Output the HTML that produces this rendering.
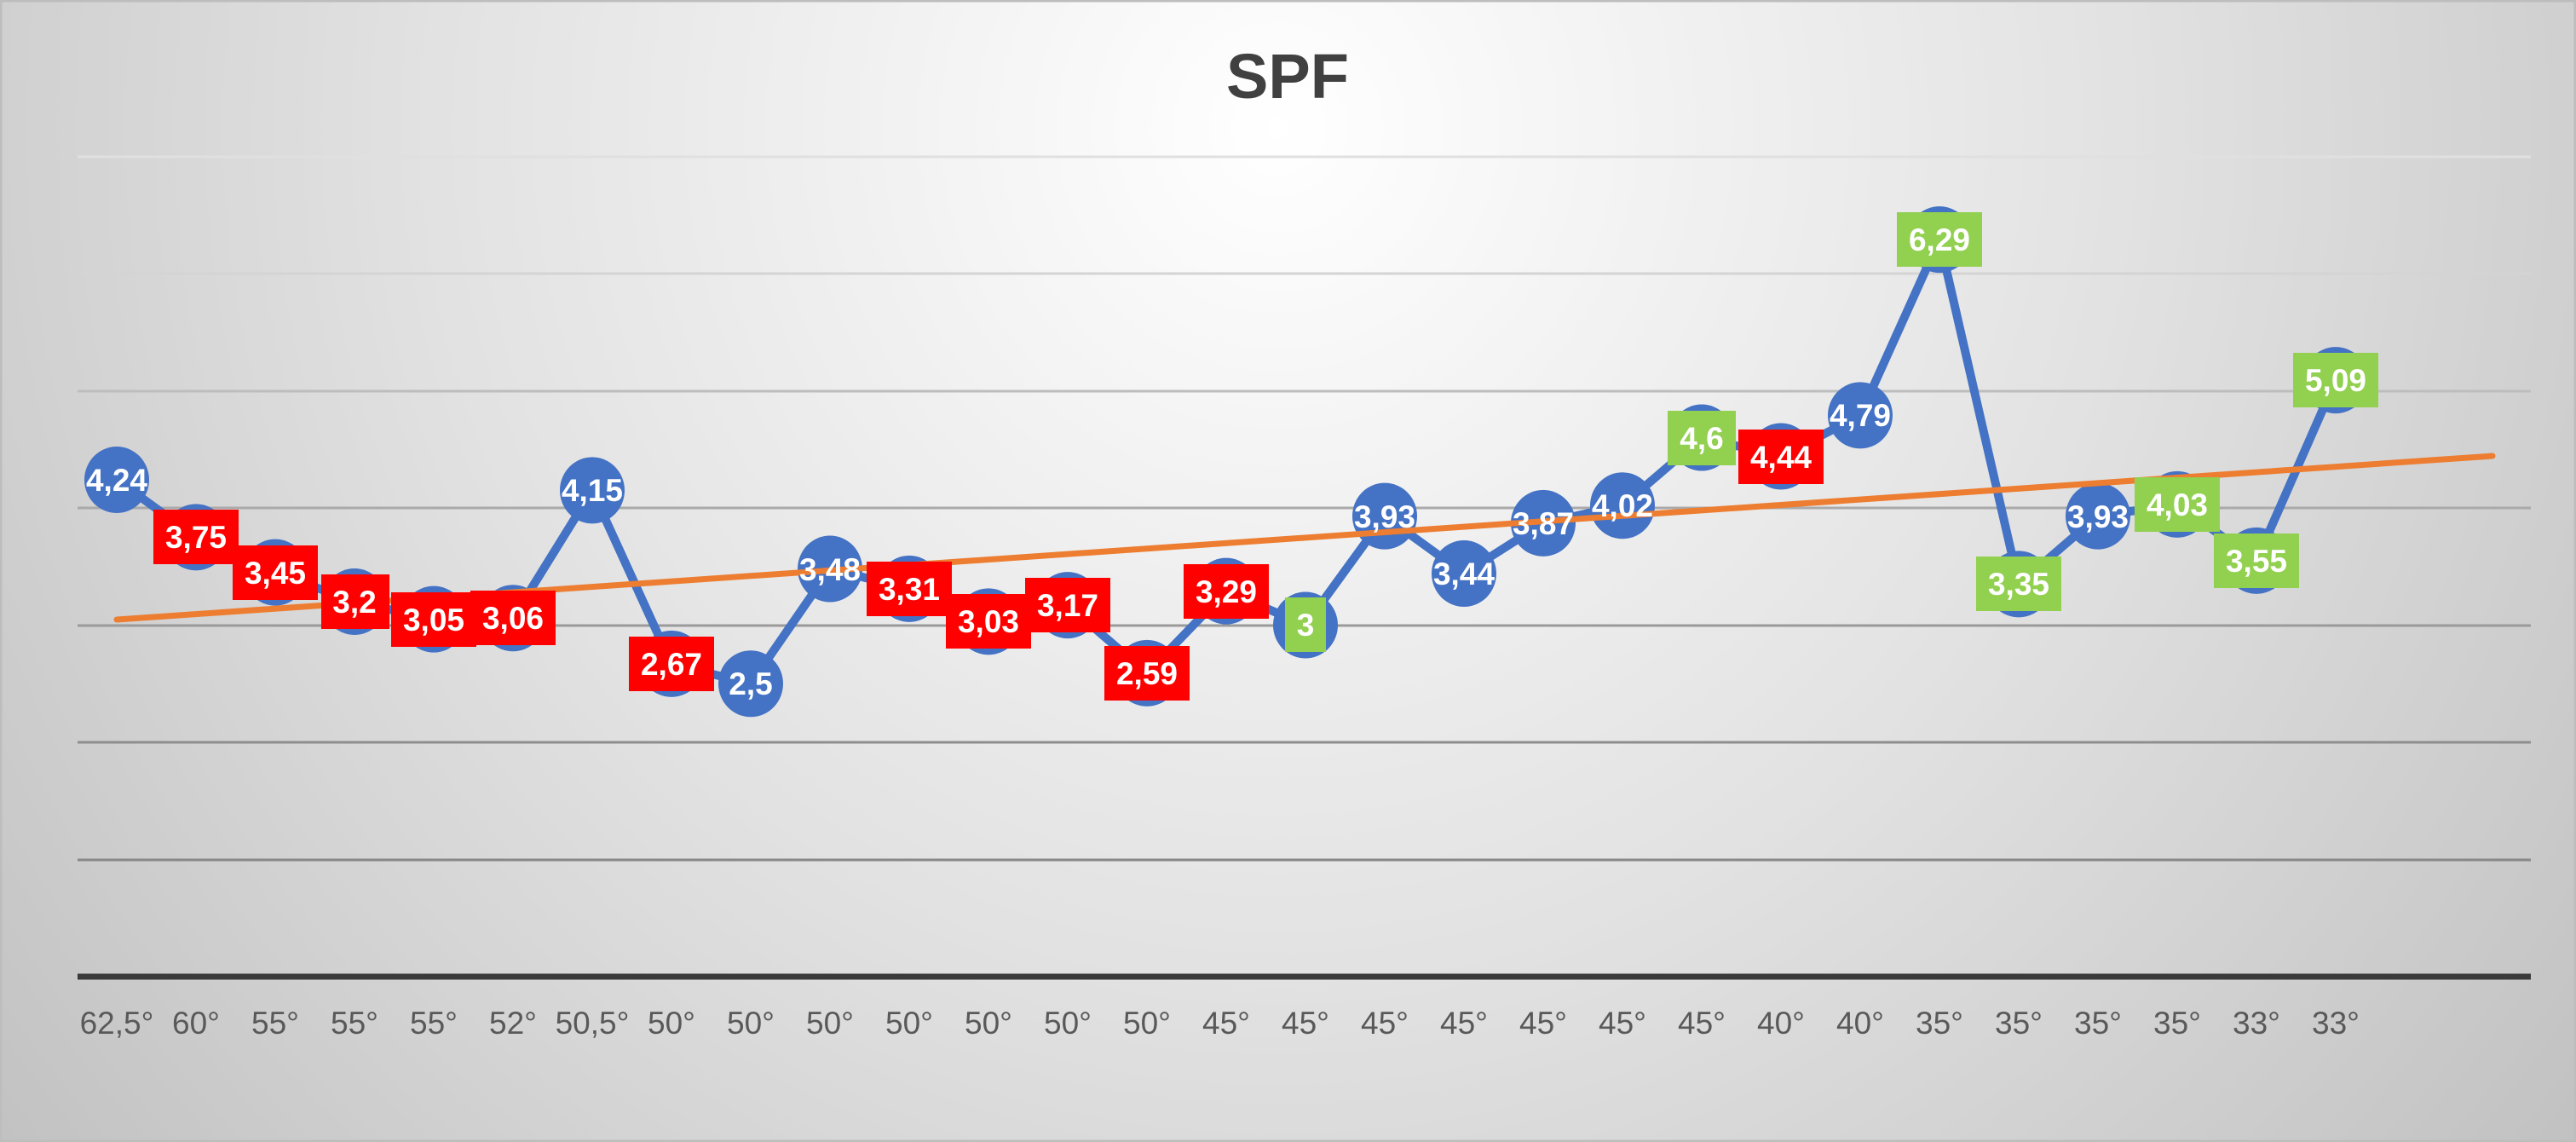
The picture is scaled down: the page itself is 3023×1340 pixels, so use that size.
<!DOCTYPE html>
<html><head><meta charset="utf-8"><style>
html,body{margin:0;padding:0}
body{width:3023px;height:1340px;overflow:hidden}
svg{display:block}
</style></head><body>
<svg width="3023" height="1340" viewBox="0 0 3023 1340" xmlns="http://www.w3.org/2000/svg" font-family="'Liberation Sans', sans-serif">
<defs>
<radialGradient id="bg" cx="1500" cy="150" r="2200" gradientUnits="userSpaceOnUse">
<stop offset="0" stop-color="#ffffff"/>
<stop offset="0.45" stop-color="#e2e2e2"/>
<stop offset="1" stop-color="#b8b8b8"/>
</radialGradient>
</defs>
<rect x="0" y="0" width="3023" height="1340" fill="url(#bg)"/>
<rect x="1" y="1" width="3021" height="1338" fill="none" stroke="#bdbdbd" stroke-width="3"/>
<text x="1511" y="115" text-anchor="middle" font-size="74" font-weight="bold" fill="#404040">SPF</text>
<g stroke-width="3">
<line x1="91" x2="2970" y1="184" y2="184" stroke="#e0e0e0"/>
<line x1="91" x2="2970" y1="321" y2="321" stroke="#d4d4d4"/>
<line x1="91" x2="2970" y1="459" y2="459" stroke="#bdbdbd"/>
<line x1="91" x2="2970" y1="596" y2="596" stroke="#aaaaaa"/>
<line x1="91" x2="2970" y1="734" y2="734" stroke="#9a9a9a"/>
<line x1="91" x2="2970" y1="871" y2="871" stroke="#8e8e8e"/>
<line x1="91" x2="2970" y1="1009" y2="1009" stroke="#888888"/>
</g>
<line x1="91" x2="2970" y1="1146" y2="1146" stroke="#3a3a3a" stroke-width="7"/>
<polyline fill="none" stroke="#4472c4" stroke-width="10" stroke-linejoin="round" points="137,563 230,630.4 323,671.6 416,706 509,726.6 602,725.3 695,575.4 788,778.9 881,802.3 974,667.5 1067,690.9 1160,729.4 1253,710.1 1346,789.9 1439,693.6 1532,733.5 1625,605.6 1718,673 1811,613.9 1904,593.3 1997,513.5 2090,535.5 2183,487.4 2276,281.1 2369,685.4 2462,605.6 2555,591.9 2648,657.9 2741,446.1"/>
<g fill="#4472c4">
<ellipse cx="137" cy="563" rx="38" ry="39"/><ellipse cx="230" cy="630.4" rx="38" ry="39"/><ellipse cx="323" cy="671.6" rx="38" ry="39"/><ellipse cx="416" cy="706" rx="38" ry="39"/><ellipse cx="509" cy="726.6" rx="38" ry="39"/><ellipse cx="602" cy="725.3" rx="38" ry="39"/><ellipse cx="695" cy="575.4" rx="38" ry="39"/><ellipse cx="788" cy="778.9" rx="38" ry="39"/><ellipse cx="881" cy="802.3" rx="38" ry="39"/><ellipse cx="974" cy="667.5" rx="38" ry="39"/><ellipse cx="1067" cy="690.9" rx="38" ry="39"/><ellipse cx="1160" cy="729.4" rx="38" ry="39"/><ellipse cx="1253" cy="710.1" rx="38" ry="39"/><ellipse cx="1346" cy="789.9" rx="38" ry="39"/><ellipse cx="1439" cy="693.6" rx="38" ry="39"/><ellipse cx="1532" cy="733.5" rx="38" ry="39"/><ellipse cx="1625" cy="605.6" rx="38" ry="39"/><ellipse cx="1718" cy="673" rx="38" ry="39"/><ellipse cx="1811" cy="613.9" rx="38" ry="39"/><ellipse cx="1904" cy="593.3" rx="38" ry="39"/><ellipse cx="1997" cy="513.5" rx="38" ry="39"/><ellipse cx="2090" cy="535.5" rx="38" ry="39"/><ellipse cx="2183" cy="487.4" rx="38" ry="39"/><ellipse cx="2276" cy="281.1" rx="38" ry="39"/><ellipse cx="2369" cy="685.4" rx="38" ry="39"/><ellipse cx="2462" cy="605.6" rx="38" ry="39"/><ellipse cx="2555" cy="591.9" rx="38" ry="39"/><ellipse cx="2648" cy="657.9" rx="38" ry="39"/><ellipse cx="2741" cy="446.1" rx="38" ry="39"/>
</g>
<line x1="137" y1="727" x2="2925" y2="535" stroke="#ed7d31" stroke-width="7" stroke-linecap="round"/>
<g fill="#ff0000">
<rect x="180" y="598" width="100" height="64"/>
<rect x="273" y="640" width="100" height="64"/>
<rect x="377" y="674" width="80" height="64"/>
<rect x="459" y="695" width="100" height="64"/>
<rect x="552" y="693" width="100" height="64"/>
<rect x="738" y="747" width="100" height="64"/>
<rect x="1017" y="659" width="100" height="64"/>
<rect x="1110" y="697" width="100" height="64"/>
<rect x="1203" y="678" width="100" height="64"/>
<rect x="1296" y="758" width="100" height="64"/>
<rect x="1389" y="662" width="100" height="64"/>
<rect x="2040" y="504" width="100" height="64"/>
</g>
<g fill="#92d050">
<rect x="1508" y="701" width="48" height="64"/>
<rect x="1957" y="482" width="80" height="64"/>
<rect x="2226" y="249" width="100" height="64"/>
<rect x="2319" y="653" width="100" height="64"/>
<rect x="2505" y="560" width="100" height="64"/>
<rect x="2598" y="626" width="100" height="64"/>
<rect x="2691" y="414" width="100" height="64"/>
</g>
<g fill="#ffffff" font-size="37" font-weight="bold" text-anchor="middle">
<text x="137" y="576">4,24</text><text x="230" y="643">3,75</text><text x="323" y="685">3,45</text><text x="416" y="719">3,2</text><text x="509" y="740">3,05</text><text x="602" y="738">3,06</text><text x="695" y="588">4,15</text><text x="788" y="792">2,67</text><text x="881" y="815">2,5</text><text x="974" y="681">3,48</text><text x="1067" y="704">3,31</text><text x="1160" y="742">3,03</text><text x="1253" y="723">3,17</text><text x="1346" y="803">2,59</text><text x="1439" y="707">3,29</text><text x="1532" y="746">3</text><text x="1625" y="619">3,93</text><text x="1718" y="686">3,44</text><text x="1811" y="627">3,87</text><text x="1904" y="606">4,02</text><text x="1997" y="527">4,6</text><text x="2090" y="549">4,44</text><text x="2183" y="500">4,79</text><text x="2276" y="294">6,29</text><text x="2369" y="698">3,35</text><text x="2462" y="619">3,93</text><text x="2555" y="605">4,03</text><text x="2648" y="671">3,55</text><text x="2741" y="459">5,09</text>
</g>
<g fill="#595959" font-size="37" text-anchor="middle">
<text x="137" y="1213">62,5°</text><text x="230" y="1213">60°</text><text x="323" y="1213">55°</text><text x="416" y="1213">55°</text><text x="509" y="1213">55°</text><text x="602" y="1213">52°</text><text x="695" y="1213">50,5°</text><text x="788" y="1213">50°</text><text x="881" y="1213">50°</text><text x="974" y="1213">50°</text><text x="1067" y="1213">50°</text><text x="1160" y="1213">50°</text><text x="1253" y="1213">50°</text><text x="1346" y="1213">50°</text><text x="1439" y="1213">45°</text><text x="1532" y="1213">45°</text><text x="1625" y="1213">45°</text><text x="1718" y="1213">45°</text><text x="1811" y="1213">45°</text><text x="1904" y="1213">45°</text><text x="1997" y="1213">45°</text><text x="2090" y="1213">40°</text><text x="2183" y="1213">40°</text><text x="2276" y="1213">35°</text><text x="2369" y="1213">35°</text><text x="2462" y="1213">35°</text><text x="2555" y="1213">35°</text><text x="2648" y="1213">33°</text><text x="2741" y="1213">33°</text>
</g>
</svg>
</body></html>
